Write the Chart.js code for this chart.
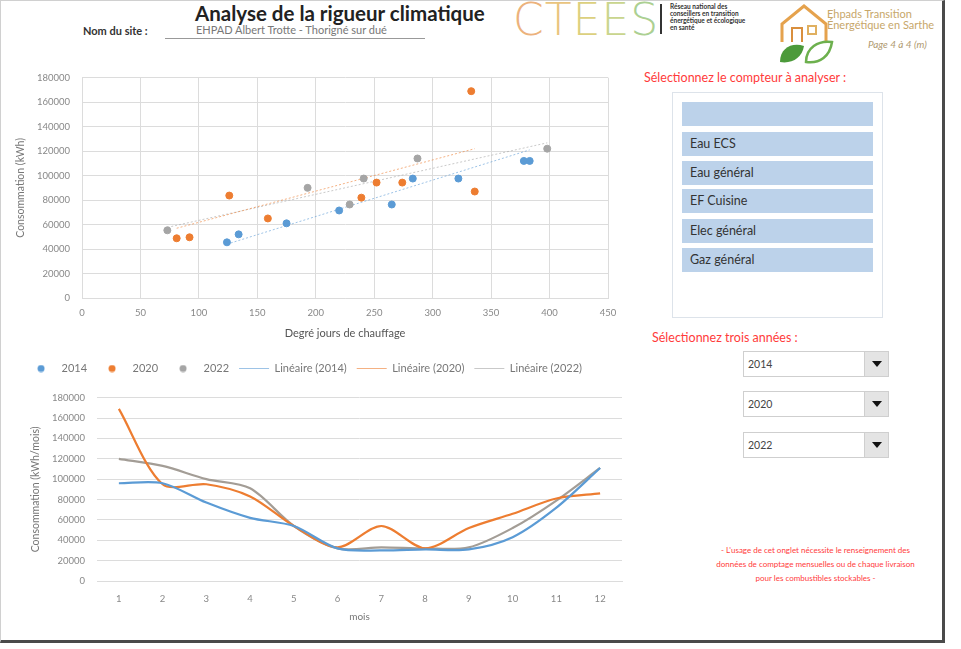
<!DOCTYPE html>
<html lang="fr">
<head>
<meta charset="utf-8">
<script src="https://cdn.jsdelivr.net/npm/chart.js@4/dist/chart.umd.min.js"></script>
<style>
  body { margin:0; background:#fff; font-family: Lato, "Liberation Sans", sans-serif; }
  .abs { position:absolute; }
  #frame { left:0; top:0; width:941px; height:639px; border-top:1px solid #d0d0d0; border-left:1px solid #d0d0d0;
           border-right:3px solid #4a4a4a; border-bottom:3px solid #4a4a4a; }
  .red { color:#ff3b3b; font-size:12.5px; white-space:nowrap; }
  .lb { left:672px; top:92px; width:209px; height:224px; border:1px solid #dde3ea; }
  .item { position:absolute; left:9px; width:191px; height:24px; background:#bcd2ea; font-size:12.5px;
          color:#333; line-height:24px; text-indent:8px; }
  .dd { position:absolute; left:743px; width:144px; height:24px; border:1px solid #cfcfcf; background:#fff;
        font-size:10.5px; color:#444; line-height:24px; text-indent:4px; }
  .dd b { position:absolute; right:0; top:0; width:23px; height:24px; background:#e4e4e4; border-left:1px solid #cfcfcf; }
  .dd b:after { content:""; position:absolute; left:7px; top:9px; border-left:5px solid transparent;
                border-right:5px solid transparent; border-top:6px solid #111; }
</style>
</head>
<body>
<div id="frame" class="abs"></div>

<!-- en-tete -->
<div class="abs" style="left:195px;top:1px;font-size:20.5px;font-weight:bold;color:#222;">Analyse de la rigueur climatique</div>
<div class="abs" style="left:83px;top:24px;font-size:11px;font-weight:bold;color:#333;">Nom du site :</div>
<div class="abs" style="left:196px;top:23px;font-size:11px;color:#777;">EHPAD Albert Trotte - Thorigné sur dué</div>
<div class="abs" style="left:165px;top:38px;width:260px;height:1px;background:#999;"></div>

<div class="abs" style="left:513px;top:-6px;font-size:44px;font-weight:300;letter-spacing:1px;font-family:'DejaVu Sans',sans-serif;">
  <span style="color:#ecb27c">C</span><span style="color:#e9c47e">T</span><span style="color:#dcd07e">E</span><span style="color:#c9d58e">E</span><span style="color:#acd092">S</span>
</div>
<div class="abs" style="left:660px;top:4px;width:2px;height:30px;background:#333;"></div>
<div class="abs" style="left:670px;top:3px;font-size:6.5px;line-height:7px;font-weight:bold;color:#333;white-space:nowrap;">Réseau national des<br>conseillers en transition<br>énergétique et écologique<br>en santé</div>

<svg class="abs" style="left:776px;top:2px" width="60" height="66" viewBox="0 0 60 66">
  <path d="M6 40 V22 L28 4 L50 22 V40" fill="none" stroke="#e5a24d" stroke-width="3"/>
  <path d="M16 40 V26 H26 V40" fill="none" stroke="#d98f3e" stroke-width="2"/>
  <rect x="32" y="24" width="8" height="8" fill="none" stroke="#e0b060" stroke-width="2"/>
  <path d="M4 60 C4 46 16 40 28 44 C26 56 16 62 4 60 Z" fill="#4c9a3a"/>
  <path d="M30 60 C30 46 42 38 56 40 C54 54 44 62 30 60 Z" fill="none" stroke="#6db04e" stroke-width="2.5"/>
</svg>
<div class="abs" style="left:827px;top:8px;font-size:11px;line-height:11px;color:#c7a76a;white-space:nowrap;">Ehpads Transition<br>Énergétique en Sarthe</div>
<div class="abs" style="left:868px;top:38px;font-size:10px;font-style:italic;color:#b09a70;">Page 4 à 4 (m)</div>

<!-- panneau droit -->
<div class="abs red" style="left:644px;top:70px;">Sélectionnez le compteur à analyser :</div>
<div class="abs lb">
  <div class="item" style="top:9px;"></div>
  <div class="item" style="top:39px;">Eau ECS</div>
  <div class="item" style="top:68px;">Eau général</div>
  <div class="item" style="top:96px;">EF Cuisine</div>
  <div class="item" style="top:126px;">Elec général</div>
  <div class="item" style="top:155px;">Gaz général</div>
</div>
<div class="abs red" style="left:652px;top:330px;">Sélectionnez trois années :</div>
<div class="dd" style="top:351px;">2014<b></b></div>
<div class="dd" style="top:391px;">2020<b></b></div>
<div class="dd" style="top:432px;">2022<b></b></div>
<div class="abs red" style="left:688px;top:543px;width:255px;text-align:center;font-size:8px;line-height:14px;">- L'usage de cet onglet nécessite le renseignement des<br>données de comptage mensuelles ou de chaque livraison<br>pour les combustibles stockables -</div>

<div class="abs" style="left:0;top:60px;width:630px;height:328px;"><canvas id="djuChart"></canvas></div>
<div class="abs" style="left:0;top:380px;width:630px;height:250px;"><canvas id="moisChart"></canvas></div>

<script>
// ---- données ----
const annees = ["2014", "2020", "2022"];
const couleurs = ["#5b9bd5", "#ed7d31", "#a5a5a5"];

// nuage : DJU vs consommation
const dju2014 = [124, 134, 175, 220, 265, 283, 322, 378, 383];
const kwh2014 = [45500, 52000, 61000, 71500, 76400, 97600, 97600, 112000, 112000];
const dju2020 = [81, 92, 126, 159, 239, 252, 274, 333, 336];
const kwh2020 = [48800, 49600, 83700, 65000, 82000, 94300, 94300, 169000, 87000];
const dju2022 = [73, 193, 229, 241, 287, 398];
const kwh2022 = [55300, 90000, 76400, 97600, 114000, 122000];

// extrémités des courbes de tendance linéaires
const tendX2014 = [124, 383], tendY2014 = [44000, 121000];
const tendX2020 = [81, 336],  tendY2020 = [57000, 122000];
const tendX2022 = [73, 398],  tendY2022 = [57700, 126800];

// consommation mensuelle
const mois = ["1","2","3","4","5","6","7","8","9","10","11","12"];
const conso2014 = [96000, 96000, 77000, 62000, 54000, 32000, 30000, 31000, 31000, 43000, 72000, 111000];
const conso2020 = [169000, 95000, 95000, 83000, 54000, 33000, 54000, 32000, 52000, 66000, 81000, 86000];
const conso2022 = [120000, 113000, 100000, 91000, 54000, 32000, 33000, 32000, 33000, 52000, 79000, 111000];

Chart.defaults.font.family = "Lato, 'Liberation Sans', sans-serif";
Chart.defaults.animation = false;

function pts(xs, ys){ return xs.map((x,i)=>({x, y: ys[i]})); }
const grid = "#dcdcdc";
const tickFont = { size: 9.5 };
const brut = v => String(v); // pas de séparateur de milliers

// petit rond pour la légende (sinon le cercle est étiré sur pointStyleWidth)
function rond(c){
  const cv = document.createElement("canvas");
  cv.width = 8; cv.height = 8;
  const g = cv.getContext("2d");
  g.fillStyle = c; g.beginPath(); g.arc(4, 4, 3.5, 0, Math.PI*2); g.fill();
  return cv;
}

const nuage = [pts(dju2014,kwh2014), pts(dju2020,kwh2020), pts(dju2022,kwh2022)];
const tend  = [pts(tendX2014,tendY2014), pts(tendX2020,tendY2020), pts(tendX2022,tendY2022)];

const ds1 = [];
annees.forEach((a,i)=>{
  ds1.push({ label: a, data: nuage[i], type: "scatter", backgroundColor: couleurs[i], borderColor: couleurs[i],
             pointRadius: 3.5, pointStyle: "circle", order: 1 });
});
annees.forEach((a,i)=>{
  ds1.push({ label: `Linéaire (${a})`, data: tend[i], type: "line", showLine: true, borderColor: couleurs[i] + "99",
             backgroundColor: couleurs[i] + "99", borderWidth: 1, borderDash: [2,2], pointRadius: 0, pointStyle: "line", order: 2 });
});

new Chart(document.getElementById("djuChart"), {
  type: "scatter",
  data: { datasets: ds1 },
  options: {
    responsive: true, maintainAspectRatio: false,
    layout: { padding: { top: 11, right: 22, left: 0, bottom: 4 } },
    plugins: {
      tooltip: { enabled: false },
      legend: { position: "bottom",
        labels: { usePointStyle: true, pointStyleWidth: 30, boxHeight: 6, padding: 10, color: "#777", font: { size: 11 },
          generateLabels(chart){
            const items = Chart.defaults.plugins.legend.labels.generateLabels(chart);
            items.forEach((it,i)=>{ if (i < 3) it.pointStyle = rond(couleurs[i]); });
            return items;
          } } }
    },
    scales: {
      x: { type: "linear", min: 0, max: 450, ticks: { stepSize: 50, color: "#888", font: tickFont, padding: 9, callback: brut },
           grid: { color: grid, drawTicks: false }, border: { color: grid },
           title: { display: true, text: "Degré jours de chauffage", color: "#555", font: { size: 11 }, padding: { top: 0, bottom: 13 } },
           afterFit(s){ s.height = 55; } },
      y: { min: 0, max: 180000, ticks: { stepSize: 20000, color: "#888", font: tickFont, padding: 12, callback: brut },
           grid: { color: grid, drawTicks: false }, border: { color: grid },
           title: { display: true, text: "Consommation (kWh)", color: "#777", font: { size: 10.5 }, padding: { top: 14, bottom: 0 } },
           afterFit(s){ s.width = 82; } }
    }
  }
});

const conso = [conso2014, conso2020, conso2022];
new Chart(document.getElementById("moisChart"), {
  type: "line",
  data: {
    labels: mois,
    datasets: annees.map((a,i)=>({ label: a, data: conso[i], borderColor: couleurs[i] === "#a5a5a5" ? "#a39d96" : couleurs[i],
      borderWidth: 2.2, pointRadius: 0, tension: 0.3, fill: false }))
  },
  options: {
    responsive: true, maintainAspectRatio: false,
    layout: { padding: { top: 16, right: 8, left: 0, bottom: 3 } },
    plugins: { legend: { display: false }, tooltip: { enabled: false } },
    scales: {
      x: { offset: true, ticks: { color: "#888", font: tickFont, padding: 12 },
           grid: { display: false, drawTicks: false }, border: { color: grid },
           title: { display: true, text: "mois", color: "#777", font: { size: 10 }, padding: { top: 0, bottom: 4 } },
           afterFit(s){ s.height = 46; } },
      y: { min: 0, max: 180000, ticks: { stepSize: 20000, color: "#888", font: tickFont, padding: 12, callback: brut },
           grid: { color: grid, drawTicks: false }, border: { display: false },
           title: { display: true, text: "Consommation (kWh/mois)", color: "#777", font: { size: 10.5 }, padding: { top: 29, bottom: 0 } },
           afterFit(s){ s.width = 97; } }
    }
  }
});
</script>
</body>
</html>
